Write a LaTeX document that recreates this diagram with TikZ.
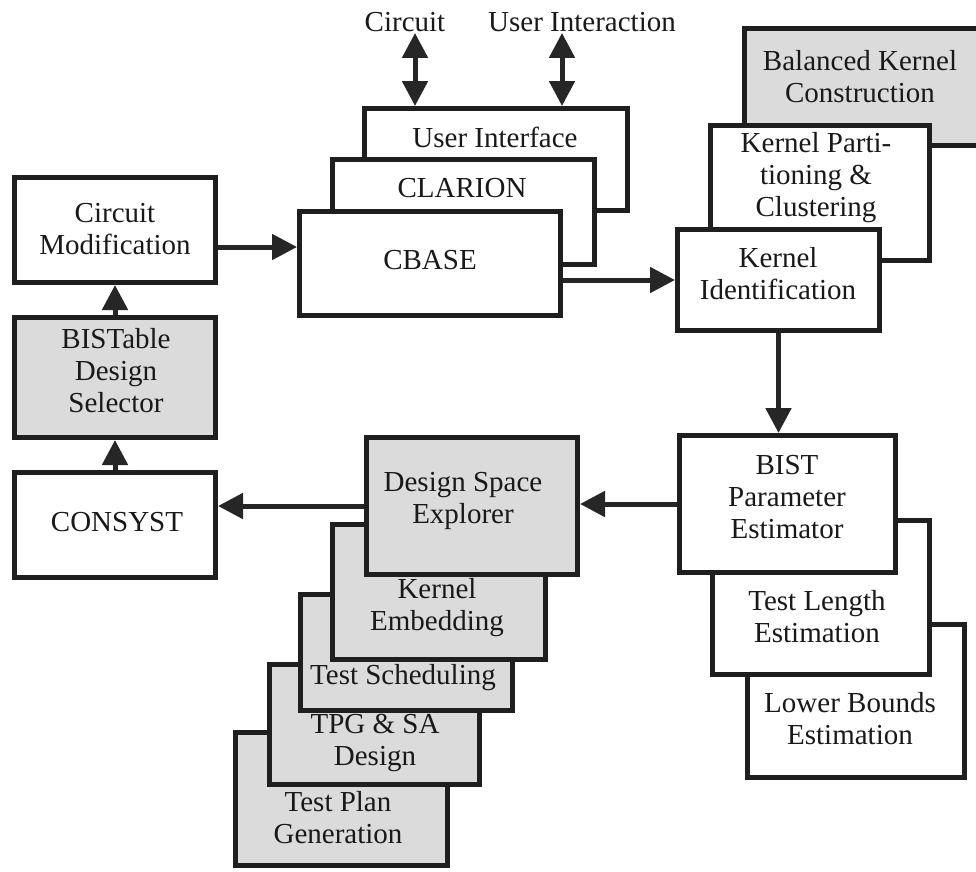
\documentclass[tikz,border=0pt]{standalone}
\usepackage{fontspec}
\setmainfont{Liberation Serif}
\usetikzlibrary{arrows.meta,fit}

\begin{document}
\begin{tikzpicture}[x=1pt,y=-1pt,
  block/.style={draw=black!88,line width=5pt,fill=white,inner sep=0pt},
  shaded/.style={block,fill=black!14},
  lbl/.style={align=center,inner sep=1pt,text=black!90,
    font=\fontsize{29}{32}\selectfont},
  flow/.style={draw=black!85,line width=5pt,
    -{Triangle[length=25pt,width=25pt]}},
  twoway/.style={draw=black!85,line width=5pt,
    {Triangle[length=25pt,width=25pt]}-{Triangle[length=25pt,width=25pt]}}]

\useasboundingbox (0,0) rectangle (976,871);
\clip (0,0) rectangle (976,871);

% ---- tool stack: user interface, CLARION, CBASE ----
\node[block,fit={(364,108.5) (627.5,210.5)}] (ui) {};
\node[lbl] (uit) at (495,137) {User Interface};
\node[block,fit={(332.5,159.5) (594.5,264.5)}] (clar) {};
\node[lbl] (clart) at (462,188) {CLARION};
\node[block,fit={(299.5,211.5) (560.5,315.5)}] (cbase) {};
\node[lbl] (cbaset) at (430,260) {CBASE};

% external inputs
\node[lbl] (circ) at (405,22) {Circuit};
\node[lbl] (uia) at (582,22) {User Interaction};
\coordinate (cx) at (415,0);
\coordinate (ux) at (562,0);
\draw[twoway] (cx |- circ.south) -- (cx |- ui.north);
\draw[twoway] (ux |- uia.south) -- (ux |- ui.north);

% ---- kernel stack ----
\node[shaded,fit={(744.5,28.5) (1000,145.5)}] (bkc) {};
\node[lbl] (bkct) at (860,77) {Balanced Kernel\\Construction};
\node[block,fit={(710.5,125.5) (929.5,260.5)}] (kpc) {};
\node[lbl] (kpct) at (816,178) {Kernel Parti-\\tioning \&\\Clustering};
\node[block,fit={(677.5,229.5) (879.5,330.5)}] (ki) {};
\node[lbl] (kit) at (778,274) {Kernel\\Identification};

% ---- left column ----
\node[block,fit={(14.5,177.5) (215.5,282.5)}] (cm) {};
\node[lbl] (cmt) at (115,229) {Circuit\\Modification};
\node[shaded,fit={(14.5,317.5) (215.5,437.5)}] (bds) {};
\node[lbl] (bdst) at (116,371) {BISTable\\Design\\Selector};
\node[block,fit={(14.5,472.5) (215.5,577.5)}] (cons) {};
\node[lbl] (const) at (117,522) {CONSYST};

% ---- estimator stack ----
\node[block,fit={(747.5,624.5) (964.5,777.5)}] (lbe) {};
\node[lbl] (lbet) at (850,719) {Lower Bounds\\Estimation};
\node[block,fit={(712.5,520.5) (929.5,674.5)}] (tle) {};
\node[lbl] (tlet) at (817,617) {Test Length\\Estimation};
\node[block,fit={(679.5,435.5) (895.5,572.5)}] (bist) {};
\node[lbl] (bistt) at (787,497) {BIST\\Parameter\\Estimator};

% ---- design space stack ----
\node[shaded,fit={(235.5,732.5) (447.5,865.5)}] (tpgen) {};
\node[lbl] (tpgent) at (338,818) {Test Plan\\Generation};
\node[shaded,fit={(269.5,664.5) (479.5,784.5)}] (tpg) {};
\node[lbl] (tpgt) at (375,743) {TPG \& SA\\Design};
\node[shaded,fit={(300.5,594.5) (512.5,710.5)}] (ts) {};
\node[lbl] (tst) at (403,678) {Test Scheduling};
\node[shaded,fit={(332.5,524.5) (545.5,659.5)}] (ke) {};
\node[lbl] (ket) at (437,608) {Kernel\\Embedding};
\node[shaded,fit={(366.5,437.5) (577.5,574.5)}] (dse) {};
\node[lbl] (dset) at (463,501) {Design Space\\Explorer};

% ---- connectors ----
\draw[flow] ([yshift=-17pt]cm.east) -- ([yshift=-17pt]cm.east -| cbase.west);
\draw[flow] (cbase.east |- ki.west) -- (ki.west);
\draw[flow] (ki.south) -- (ki.south |- bist.north);
\draw[flow] (bist.west) -- (bist.west -| dse.east);
\draw[flow] (dse.west) -- (dse.west -| cons.east);
\draw[flow] (cons.north) -- (bds.south);
\draw[flow] (bds.north) -- (cm.south);

\end{tikzpicture}
\end{document}
